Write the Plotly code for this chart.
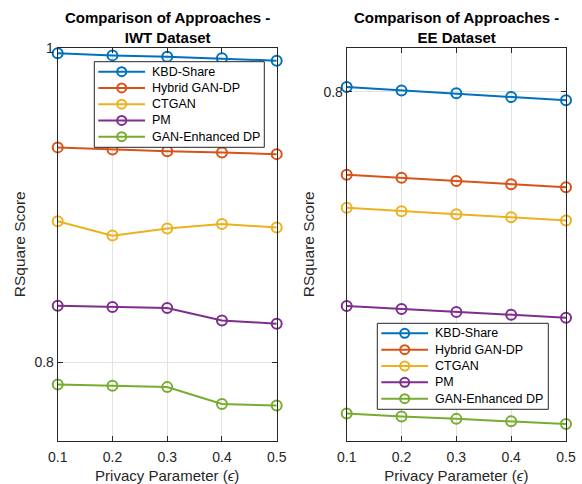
import plotly.graph_objects as go

eps = [0.1, 0.2, 0.3, 0.4, 0.5]
methods = ["KBD-Share", "Hybrid GAN-DP", "CTGAN", "PM", "GAN-Enhanced DP"]
colors = ["#0072BD", "#D95319", "#EDB120", "#7E2F8E", "#77AC30"]

# IWT dataset
iwt_kbd = [0.9966, 0.9953, 0.9945, 0.9934, 0.9919]
iwt_hybrid = [0.9367, 0.9354, 0.9343, 0.9335, 0.9324]
iwt_ctgan = [0.8897, 0.8805, 0.8850, 0.8879, 0.8857]
iwt_pm = [0.8359, 0.8350, 0.8344, 0.8265, 0.8244]
iwt_gan = [0.7857, 0.7849, 0.7840, 0.7732, 0.7723]

# EE dataset
ee_kbd = [0.8026, 0.8007, 0.7990, 0.7969, 0.7950]
ee_hybrid = [0.7523, 0.7506, 0.7487, 0.7469, 0.7452]
ee_ctgan = [0.7334, 0.7314, 0.7297, 0.7280, 0.7261]
ee_pm = [0.6771, 0.6754, 0.6737, 0.6721, 0.6704]
ee_gan = [0.6155, 0.6137, 0.6124, 0.6111, 0.6094]

iwt = [iwt_kbd, iwt_hybrid, iwt_ctgan, iwt_pm, iwt_gan]
ee = [ee_kbd, ee_hybrid, ee_ctgan, ee_pm, ee_gan]

FONT = "Liberation Sans, Arial, sans-serif"
TXT = "#262626"

W, H = 582, 484
fig = go.Figure()

for i, name in enumerate(methods):
    fig.add_trace(go.Scatter(
        x=eps, y=iwt[i], name=name, mode="lines+markers",
        line=dict(color=colors[i], width=2),
        marker=dict(symbol="circle-open", size=10, line=dict(width=2, color=colors[i])),
        xaxis="x", yaxis="y", showlegend=False, cliponaxis=False))
for i, name in enumerate(methods):
    fig.add_trace(go.Scatter(
        x=eps, y=ee[i], name=name, mode="lines+markers",
        line=dict(color=colors[i], width=2),
        marker=dict(symbol="circle-open", size=10, line=dict(width=2, color=colors[i])),
        xaxis="x2", yaxis="y2", showlegend=False, cliponaxis=False))

shapes = []
annotations = []


def px(x):
    return x / W


def py(y):
    return 1 - y / H


def add_legend(left, top, width, height):
    # MATLAB-style legend box drawn in paper (pixel-derived) coordinates
    shapes.append(dict(type="rect", xref="paper", yref="paper",
                       x0=px(left), x1=px(left + width), y0=py(top + height), y1=py(top),
                       fillcolor="white", line=dict(color=TXT, width=1), layer="above"))
    n = len(methods)
    first, last = top + 10.0, top + height - 10.6
    step = (last - first) / (n - 1)
    for k, (name, col) in enumerate(zip(methods, colors)):
        yc = first + k * step
        shapes.append(dict(type="line", xref="paper", yref="paper",
                           x0=px(left + 4), x1=px(left + 50.7), y0=py(yc), y1=py(yc),
                           line=dict(color=col, width=2), layer="above"))
        shapes.append(dict(type="circle", xref="paper", yref="paper",
                           xsizemode="pixel", ysizemode="pixel",
                           xanchor=px(left + 27.4), yanchor=py(yc),
                           x0=-4.5, x1=4.5, y0=-4.5, y1=4.5,
                           line=dict(color=col, width=2), fillcolor="rgba(0,0,0,0)", layer="above"))
        annotations.append(dict(text=name, x=px(left + 55.5), y=py(yc), xref="paper", yref="paper",
                                xanchor="left", yanchor="middle", showarrow=False,
                                font=dict(family=FONT, size=12.5, color="black")))


add_legend(94.3, 61.7, 170, 85.6)
add_legend(377.3, 323.3, 171, 86)

annotations += [
    dict(text="<b>Comparison of Approaches -<br>IWT Dataset</b>", x=px((57.7 + 276.7) / 2), y=py(7.5),
         xref="paper", yref="paper", xanchor="center", yanchor="top", showarrow=False,
         font=dict(family=FONT, size=15, color="black")),
    dict(text="<b>Comparison of Approaches -<br>EE Dataset</b>", x=px((346.7 + 566) / 2), y=py(7.5),
         xref="paper", yref="paper", xanchor="center", yanchor="top", showarrow=False,
         font=dict(family=FONT, size=15, color="black")),
]

ydom = [py(440.5), py(48)]
common_x = dict(
    range=[0.1, 0.5], tickvals=eps, ticktext=[f"{v:.1f}" for v in eps],
    showgrid=True, gridcolor="#e3e3e3", gridwidth=1,
    showline=True, linecolor=TXT, linewidth=1, mirror="ticks",
    ticks="inside", ticklen=5, tickcolor=TXT, ticklabelstandoff=4,
    tickfont=dict(family=FONT, size=14, color=TXT),
    title=dict(text="Privacy Parameter (<i>ϵ</i>)", font=dict(family=FONT, size=15, color=TXT), standoff=6),
    zeroline=False, automargin=False,
)
common_y = dict(
    showgrid=True, gridcolor="#e3e3e3", gridwidth=1,
    showline=True, linecolor=TXT, linewidth=1, mirror="ticks",
    ticks="inside", ticklen=5, tickcolor=TXT,
    tickfont=dict(family=FONT, size=14, color=TXT),
    title=dict(text="RSquare Score", font=dict(family=FONT, size=15.5, color=TXT), standoff=5),
    zeroline=False, domain=ydom, automargin=False,
)

fig.update_layout(
    width=W, height=H,
    margin=dict(l=0, r=0, t=0, b=0),
    paper_bgcolor="white", plot_bgcolor="white",
    xaxis=dict(common_x, domain=[px(57.7), px(276.7)], anchor="y"),
    xaxis2=dict(common_x, domain=[px(346.7), px(566)], anchor="y2"),
    yaxis=dict(common_y, range=[0.75, 1.0], tickvals=[0.8, 1.0], ticktext=["0.8", "1"], anchor="x"),
    yaxis2=dict(common_y, range=[0.6, 0.825], tickvals=[0.8], ticktext=["0.8"], anchor="x2"),
    showlegend=False,
    shapes=shapes,
    annotations=annotations,
)

fig.write_html("out.html", config={"displayModeBar": False},
               post_script="document.body.style.margin='0';")
